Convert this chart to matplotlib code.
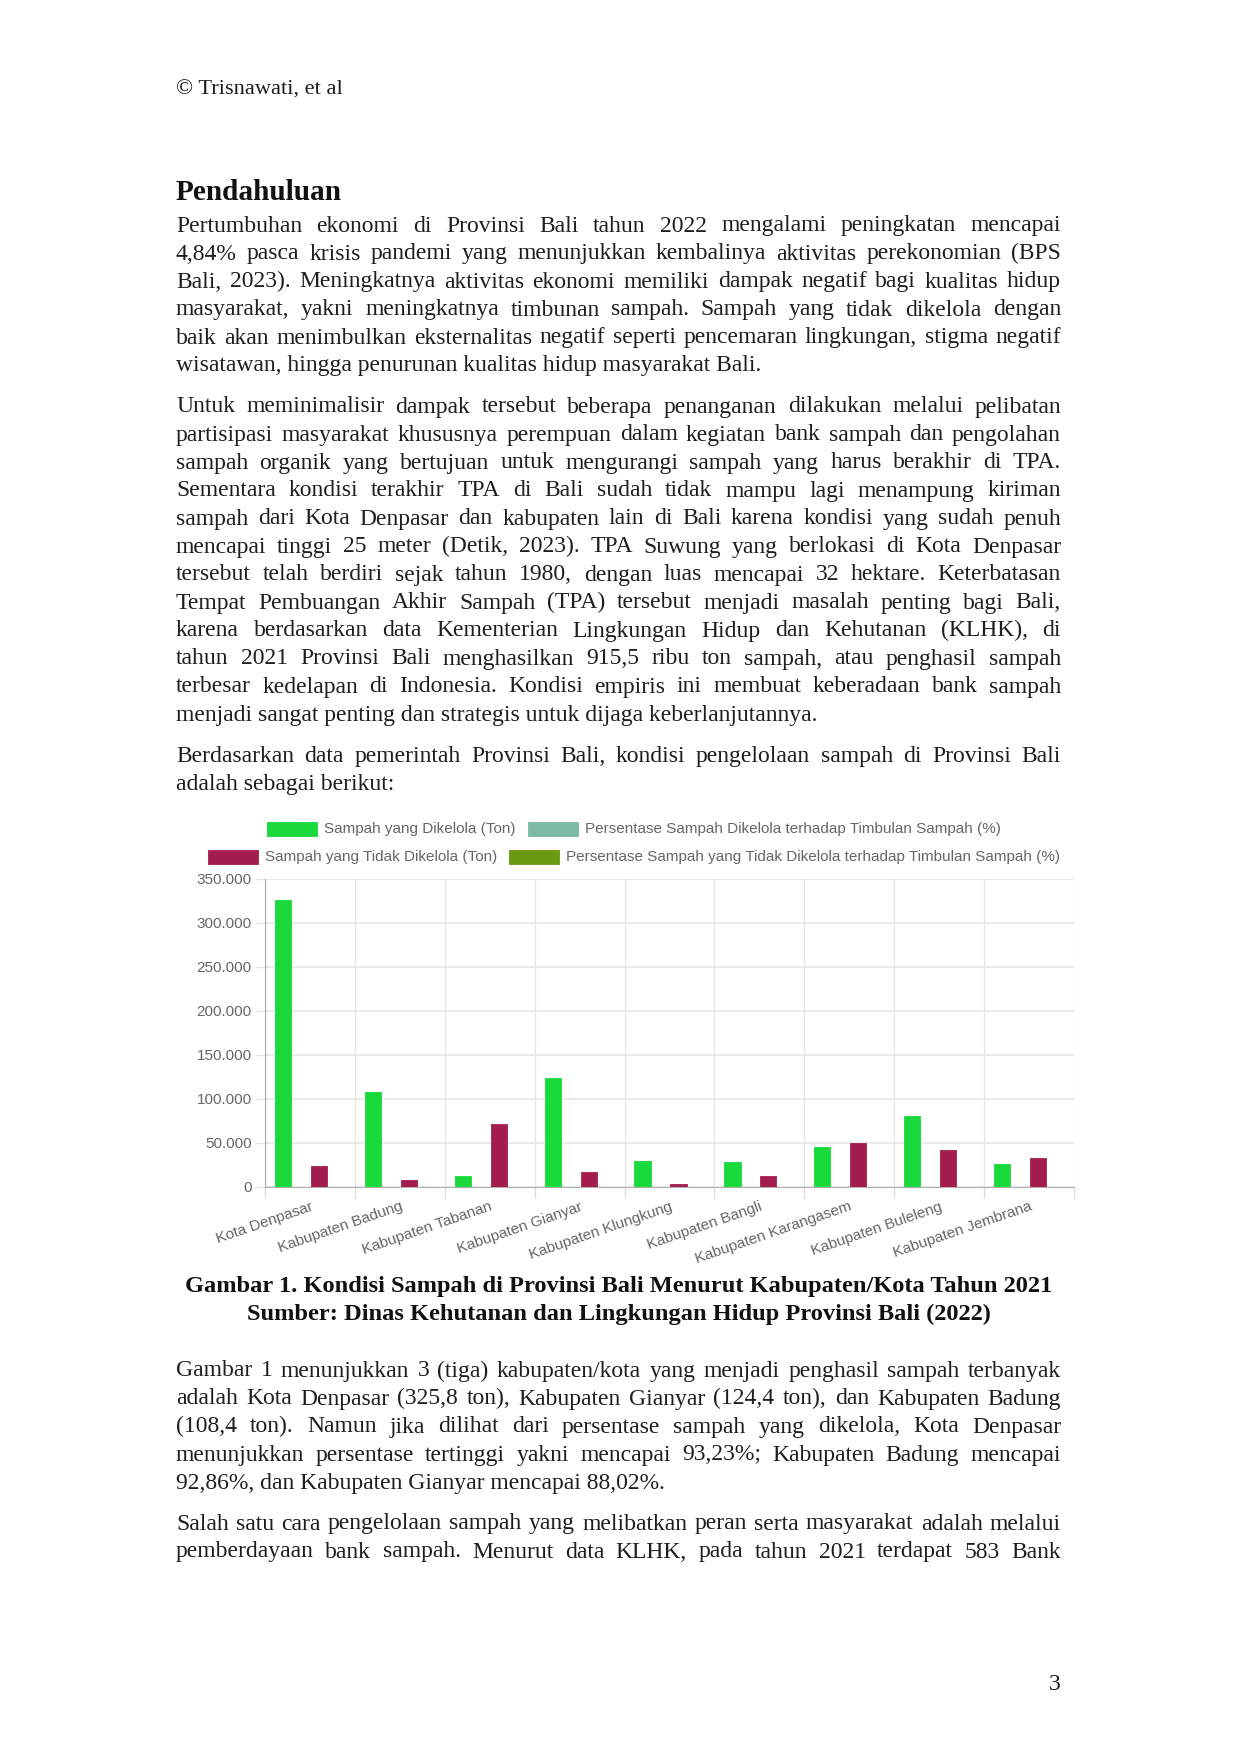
import matplotlib
matplotlib.use("Agg")
import matplotlib.pyplot as plt
from matplotlib.patches import Rectangle
from matplotlib.ticker import FuncFormatter

# Data (tons)
kabupaten = ["Kota Denpasar", "Kabupaten Badung", "Kabupaten Tabanan", "Kabupaten Gianyar",
             "Kabupaten Klungkung", "Kabupaten Bangli", "Kabupaten Karangasem",
             "Kabupaten Buleleng", "Kabupaten Jembrana"]
dikelola = [325800, 108400, 12500, 124400, 30000, 28400, 45900, 80800, 26500]
tidak_dikelola = [24000, 8300, 72000, 17000, 3800, 12000, 50400, 42500, 33000]
persen_dikelola = [93.23, 92.86, 14.8, 88.02, 88.8, 70.3, 47.7, 65.5, 44.5]
persen_tidak = [6.77, 7.14, 85.2, 11.98, 11.2, 29.7, 52.3, 34.5, 55.5]

series_names = ["Sampah yang Dikelola (Ton)",
                "Persentase Sampah Dikelola terhadap Timbulan Sampah (%)",
                "Sampah yang Tidak Dikelola (Ton)",
                "Persentase Sampah yang Tidak Dikelola terhadap Timbulan Sampah (%)"]
series_colors = ["#1ad93c", "#7dbaa3", "#a31e4f", "#6a9a10"]

# Page text
header = "\u00a9 Trisnawati, et al"
heading = "Pendahuluan"
par1 = ["Pertumbuhan ekonomi di Provinsi Bali tahun 2022 mengalami peningkatan mencapai",
        "4,84% pasca krisis pandemi yang menunjukkan kembalinya aktivitas perekonomian (BPS",
        "Bali, 2023). Meningkatnya aktivitas ekonomi memiliki dampak negatif bagi kualitas hidup",
        "masyarakat, yakni meningkatnya timbunan sampah. Sampah yang tidak dikelola dengan",
        "baik akan menimbulkan eksternalitas negatif seperti pencemaran lingkungan, stigma negatif",
        "wisatawan, hingga penurunan kualitas hidup masyarakat Bali."]
par2 = ["Untuk meminimalisir dampak tersebut beberapa penanganan dilakukan melalui pelibatan",
        "partisipasi masyarakat khususnya perempuan dalam kegiatan bank sampah dan pengolahan",
        "sampah organik yang bertujuan untuk mengurangi sampah yang harus berakhir di TPA.",
        "Sementara kondisi terakhir TPA di Bali sudah tidak mampu lagi menampung kiriman",
        "sampah dari Kota Denpasar dan kabupaten lain di Bali karena kondisi yang sudah penuh",
        "mencapai tinggi 25 meter (Detik, 2023). TPA Suwung yang berlokasi di Kota Denpasar",
        "tersebut telah berdiri sejak tahun 1980, dengan luas mencapai 32 hektare. Keterbatasan",
        "Tempat Pembuangan Akhir Sampah (TPA) tersebut menjadi masalah penting bagi Bali,",
        "karena berdasarkan data Kementerian Lingkungan Hidup dan Kehutanan (KLHK), di",
        "tahun 2021 Provinsi Bali menghasilkan 915,5 ribu ton sampah, atau penghasil sampah",
        "terbesar kedelapan di Indonesia. Kondisi empiris ini membuat keberadaan bank sampah",
        "menjadi sangat penting dan strategis untuk dijaga keberlanjutannya."]
par3 = ["Berdasarkan data pemerintah Provinsi Bali, kondisi pengelolaan sampah di Provinsi Bali",
        "adalah sebagai berikut:"]
caption = ["Gambar 1. Kondisi Sampah di Provinsi Bali Menurut Kabupaten/Kota Tahun 2021",
           "Sumber: Dinas Kehutanan dan Lingkungan Hidup Provinsi Bali (2022)"]
par4 = ["Gambar 1 menunjukkan 3 (tiga) kabupaten/kota yang menjadi penghasil sampah terbanyak",
        "adalah Kota Denpasar (325,8 ton), Kabupaten Gianyar (124,4 ton), dan Kabupaten Badung",
        "(108,4 ton). Namun jika dilihat dari persentase sampah yang dikelola, Kota Denpasar",
        "menunjukkan persentase tertinggi yakni mencapai 93,23%; Kabupaten Badung mencapai",
        "92,86%, dan Kabupaten Gianyar mencapai 88,02%."]
par5 = ["Salah satu cara pengelolaan sampah yang melibatkan peran serta masyarakat adalah melalui",
        "pemberdayaan bank sampah. Menurut data KLHK, pada tahun 2021 terdapat 583 Bank"]

W, H = 1240, 1754
fig = plt.figure(figsize=(W / 100, H / 100), dpi=100)
fig.patch.set_facecolor("white")
renderer = fig.canvas.get_renderer()

SERIF = "Liberation Serif"
SANS = "Liberation Sans"
TXT = "#1e1e1e"
LEFT, RIGHT = 176, 1061
CHART_FS = 11


def fx(x):
    return x / W


def fy(y):
    return 1 - y / H


def text_width(s, size, weight="normal", family=SERIF):
    t = fig.text(0, 0, s, fontsize=size, family=family, fontweight=weight)
    w = t.get_window_extent(renderer).width
    t.remove()
    return w


# pick a body size that lets the longest justified line fit
base = 17.5
longest = max(text_width(l, base) for l in par1 + par2 + par3 + par4 + par5)
body = min(base, base * (RIGHT - LEFT) / longest * 0.985)


def draw_paragraph(lines, y0, step=28.0, last_justified=False):
    for i, line in enumerate(lines):
        y = fy(y0 + i * step + 7)
        justify = i < len(lines) - 1 or last_justified
        if not justify:
            fig.text(fx(LEFT), y, line, fontsize=body, family=SERIF, color=TXT,
                     va="baseline", ha="left")
            continue
        words = line.split(" ")
        widths = [text_width(w, body) for w in words]
        gap = (RIGHT - LEFT - sum(widths)) / (len(words) - 1)
        x = LEFT
        for w, wd in zip(words, widths):
            fig.text(fx(x), y, w, fontsize=body, family=SERIF, color=TXT,
                     va="baseline", ha="left")
            x += wd + gap


fig.text(fx(LEFT), fy(88 + 7), header, fontsize=body * 0.95, family=SERIF, color=TXT,
         va="baseline")
fig.text(fx(LEFT), fy(192 + 8), heading, fontsize=body * 1.24, family=SERIF,
         fontweight="bold", color="#111111", va="baseline")
draw_paragraph(par1, 224.5)
draw_paragraph(par2, 405.5)
draw_paragraph(par3, 755)
for i, line in enumerate(caption):
    fig.text(fx(619), fy(1285 + i * 28 + 7), line, fontsize=body * 1.035, family=SERIF,
             fontweight="bold", color="#111111", ha="center", va="baseline")
draw_paragraph(par4, 1369.5)
draw_paragraph(par5, 1522.5, last_justified=True)
fig.text(fx(1061), fy(1682 + 8), "3", fontsize=body, family=SERIF, color=TXT,
         ha="right", va="baseline")

# Chart
x0, x1, ytop, ybot = 265, 1074, 879, 1187
ax = fig.add_axes([fx(x0), fy(ybot), (x1 - x0) / W, (ybot - ytop) / H])
n = len(kabupaten)
pos = list(range(n))
slot = 0.2
bw = 0.18
all_series = [dikelola, persen_dikelola, tidak_dikelola, persen_tidak]
for k, (vals, col) in enumerate(zip(all_series, series_colors)):
    ax.bar([p + (k - 1.5) * slot for p in pos], vals, width=bw, color=col,
           edgecolor=col, linewidth=0.6, zorder=3)

ax.set_xlim(-0.5, n - 0.5)
ax.set_ylim(0, 350000)
ax.set_yticks(range(0, 350001, 50000))
ax.yaxis.set_major_formatter(FuncFormatter(lambda v, p: f"{int(v):,}".replace(",", ".")))
ax.set_xticks(pos)
ax.set_xticklabels(kabupaten, rotation=19, ha="right", rotation_mode="anchor")
ax.set_xticks([p - 0.5 for p in range(n + 1)], minor=True)

grid_col = "#e6e6e6"
ax.grid(axis="y", which="major", color=grid_col, linewidth=1.2, zorder=0)
ax.grid(axis="x", which="minor", color=grid_col, linewidth=1.0, zorder=0)
ax.tick_params(axis="y", length=7.5, width=1.0, color=grid_col, labelsize=CHART_FS,
               labelcolor="#666666", pad=2)
ax.tick_params(axis="x", which="major", length=0, labelsize=CHART_FS, labelcolor="#666666",
               pad=9)
ax.tick_params(axis="x", which="minor", length=8, width=1.0, color="#dcdcdc")
for lab in ax.get_xticklabels() + ax.get_yticklabels():
    lab.set_family(SANS)
ax.spines["left"].set_color("#a8a8a8")
ax.spines["bottom"].set_color("#b0b0b0")
ax.spines["top"].set_visible(False)
ax.spines["right"].set_visible(False)
ax.set_facecolor("white")

# Legend in two centered rows, like the chart library
leg_rows = [[0, 1], [2, 3]]
leg_y = [829, 857]
box_w, box_h, gap_t, gap_item = 50, 14, 7, 12
cx = 634
for row, yy in zip(leg_rows, leg_y):
    items = []
    total = 0
    for k in row:
        tw = text_width(series_names[k], CHART_FS, family=SANS)
        items.append((k, tw))
        total += box_w + gap_t + tw
    total += gap_item * (len(row) - 1)
    x = cx - total / 2
    for k, tw in items:
        fig.add_artist(Rectangle((fx(x), fy(yy + box_h / 2)), box_w / W, box_h / H,
                                 transform=fig.transFigure, facecolor=series_colors[k],
                                 edgecolor=series_colors[k], linewidth=0.6))
        fig.text(fx(x + box_w + gap_t), fy(yy), series_names[k], fontsize=CHART_FS,
                 family=SANS, color="#666666", va="center", ha="left")
        x += box_w + gap_t + tw + gap_item

fig.savefig("out.png", dpi=100)
